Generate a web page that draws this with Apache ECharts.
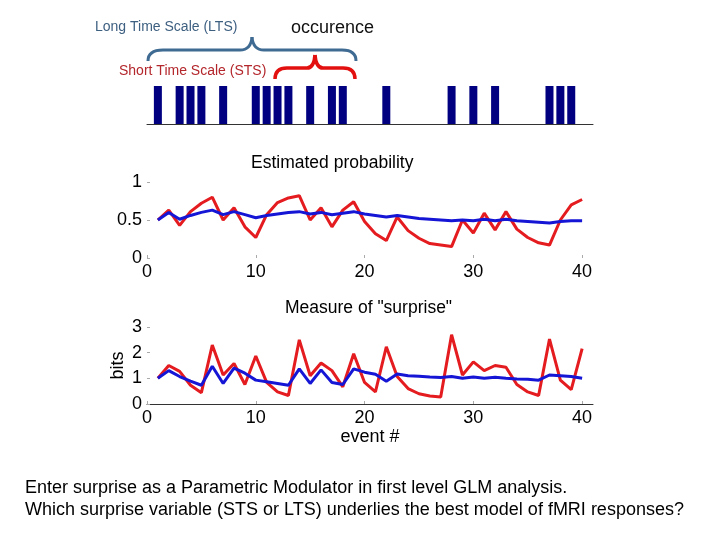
<!DOCTYPE html>
<html><head><meta charset="utf-8">
<script src="https://cdn.jsdelivr.net/npm/echarts@6/dist/echarts.min.js"></script>
<style>html,body{margin:0;padding:0;background:#fff}#c{width:720px;height:540px}</style>
</head><body><div id="c"></div>
<script>
const eventIndex = [1,2,3,4,5,6,7,8,9,10,11,12,13,14,15,16,17,18,19,20,21,22,23,24,25,26,27,28,29,30,31,32,33,34,35,36,37,38,39,40];
const occurrences = [1,3,4,5,7,10,11,12,13,15,17,18,22,28,30,32,37,38,39];
const probSTS = [0.50,0.63,0.43,0.61,0.72,0.80,0.50,0.66,0.41,0.27,0.57,0.73,0.79,0.82,0.50,0.66,0.41,0.63,0.74,0.48,0.32,0.23,0.54,0.36,0.26,0.19,0.17,0.15,0.50,0.33,0.59,0.37,0.61,0.38,0.27,0.20,0.17,0.50,0.70,0.77];
const probLTS = [0.50,0.60,0.51,0.56,0.60,0.63,0.57,0.61,0.57,0.53,0.56,0.58,0.60,0.61,0.58,0.60,0.57,0.59,0.61,0.58,0.56,0.54,0.56,0.54,0.52,0.51,0.50,0.49,0.50,0.49,0.51,0.49,0.51,0.49,0.48,0.47,0.46,0.48,0.49,0.49];
const surpriseSTS = [1.00,1.50,1.27,0.73,0.44,2.30,1.13,1.58,0.76,1.87,0.84,0.47,0.33,2.50,1.10,1.60,1.30,0.67,1.96,0.84,0.47,2.23,1.07,0.60,0.40,0.31,0.27,2.70,1.13,1.64,1.30,1.50,1.43,0.76,0.47,0.33,2.53,0.93,0.56,2.16];
const surpriseLTS = [1.00,1.30,1.07,0.89,0.73,1.47,0.80,1.40,1.20,0.93,0.87,0.80,0.73,1.37,0.80,1.33,0.84,0.76,1.37,1.24,1.16,0.89,1.17,1.10,1.08,1.05,1.03,1.07,1.00,1.05,1.00,1.04,1.00,0.97,0.96,0.93,1.13,1.10,1.07,1.00];
const xTickValues = [0,10,20,30,40];
const xTickLabels = ['0','10','20','30','40'];
const probTickLabels = ['0','0.5','1'];
const bitsTickLabels = ['0','1','2','3'];

const FONT = "'Liberation Sans', Arial, sans-serif";
const RED = '#e41b1f', BLUE = '#1515d6';
const pairs = (ys) => eventIndex.map((x, i) => [x, ys[i]]);

const chart = echarts.init(document.getElementById('c'), null, {renderer: 'canvas'});

function xAxisBase(gridIndex, showLabels, showLine) {
  return {
    type: 'value', gridIndex, min: 0, max: 41, interval: 10,
    axisLine: {show: showLine, lineStyle: {color: '#333', width: 1}},
    axisTick: {show: showLabels, inside: true, length: 3, customValues: xTickValues, lineStyle: {color: '#aaa'}},
    axisLabel: {show: showLabels, margin: 5, color: '#000', fontSize: 18, fontFamily: FONT,
      customValues: xTickValues,
      formatter: v => { const k = xTickValues.indexOf(v); return k >= 0 ? xTickLabels[k] : ''; }},
    splitLine: {show: false}
  };
}

const option = {
  animation: false,
  textStyle: {fontFamily: FONT},
  grid: [
    {left: 147, top: 86, width: 446, height: 38},
    {left: 147, top: 182, width: 446, height: 76},
    {left: 147, top: 327, width: 446, height: 77}
  ],
  xAxis: [
    xAxisBase(0, false, true),
    xAxisBase(1, true, false),
    Object.assign(xAxisBase(2, true, true), {
      name: 'event #', nameLocation: 'middle', nameGap: 23,
      nameTextStyle: {color: '#000', fontSize: 18, fontFamily: FONT}
    })
  ],
  yAxis: [
    {type: 'value', gridIndex: 0, min: 0, max: 1, show: false},
    {type: 'value', gridIndex: 1, min: 0, max: 1, interval: 0.5,
      axisLine: {show: false}, splitLine: {show: false},
      axisTick: {show: true, inside: true, length: 3, lineStyle: {color: '#aaa'}},
      axisLabel: {margin: 5, color: '#000', fontSize: 18, fontFamily: FONT,
        formatter: v => probTickLabels[Math.round(v / 0.5)]}},
    {type: 'value', gridIndex: 2, min: 0, max: 3, interval: 1,
      axisLine: {show: false}, splitLine: {show: false},
      axisTick: {show: true, inside: true, length: 3, lineStyle: {color: '#aaa'}},
      axisLabel: {margin: 5, color: '#000', fontSize: 18, fontFamily: FONT,
        formatter: v => bitsTickLabels[Math.round(v)]},
      name: 'bits', nameLocation: 'middle', nameGap: 20, nameRotate: 90, nameMoveOverlap: false,
      nameTextStyle: {color: '#000', fontSize: 18, fontFamily: FONT}}
  ],
  series: [
    {type: 'bar', xAxisIndex: 0, yAxisIndex: 0, barWidth: 8,
      itemStyle: {color: '#000080'},
      data: occurrences.map(e => [e, 1])},
    {type: 'line', xAxisIndex: 1, yAxisIndex: 1, data: pairs(probSTS), showSymbol: false,
      lineStyle: {color: RED, width: 3}},
    {type: 'line', xAxisIndex: 1, yAxisIndex: 1, data: pairs(probLTS), showSymbol: false,
      lineStyle: {color: BLUE, width: 3}},
    {type: 'line', xAxisIndex: 2, yAxisIndex: 2, data: pairs(surpriseSTS), showSymbol: false,
      lineStyle: {color: RED, width: 3}},
    {type: 'line', xAxisIndex: 2, yAxisIndex: 2, data: pairs(surpriseLTS), showSymbol: false,
      lineStyle: {color: BLUE, width: 3}}
  ],
  graphic: [
    {type: 'group', silent: true, children: [
      {type: 'bezierCurve', shape: {x1: 148, y1: 61, x2: 163, y2: 50, cpx1: 148, cpy1: 50}, style: {stroke: '#3f6b93', lineWidth: 3, fill: null}},
      {type: 'line', shape: {x1: 163, y1: 50, x2: 240, y2: 50}, style: {stroke: '#3f6b93', lineWidth: 3}},
      {type: 'bezierCurve', shape: {x1: 240, y1: 50, x2: 252, y2: 37, cpx1: 251, cpy1: 50}, style: {stroke: '#3f6b93', lineWidth: 3, fill: null}},
      {type: 'bezierCurve', shape: {x1: 264, y1: 50, x2: 252, y2: 37, cpx1: 253, cpy1: 50}, style: {stroke: '#3f6b93', lineWidth: 3, fill: null}},
      {type: 'line', shape: {x1: 264, y1: 50, x2: 342, y2: 50}, style: {stroke: '#3f6b93', lineWidth: 3}},
      {type: 'bezierCurve', shape: {x1: 342, y1: 50, x2: 356, y2: 61, cpx1: 356, cpy1: 50}, style: {stroke: '#3f6b93', lineWidth: 3, fill: null}},

      {type: 'bezierCurve', shape: {x1: 275, y1: 79, x2: 287, y2: 68, cpx1: 275, cpy1: 68}, style: {stroke: '#e31010', lineWidth: 3.5, fill: null}},
      {type: 'line', shape: {x1: 287, y1: 68, x2: 307, y2: 68}, style: {stroke: '#e31010', lineWidth: 3.5}},
      {type: 'bezierCurve', shape: {x1: 307, y1: 68, x2: 315, y2: 55, cpx1: 314, cpy1: 68}, style: {stroke: '#e31010', lineWidth: 3.5, fill: null}},
      {type: 'bezierCurve', shape: {x1: 323, y1: 68, x2: 315, y2: 55, cpx1: 316, cpy1: 68}, style: {stroke: '#e31010', lineWidth: 3.5, fill: null}},
      {type: 'line', shape: {x1: 323, y1: 68, x2: 343, y2: 68}, style: {stroke: '#e31010', lineWidth: 3.5}},
      {type: 'bezierCurve', shape: {x1: 343, y1: 68, x2: 355, y2: 79, cpx1: 355, cpy1: 68}, style: {stroke: '#e31010', lineWidth: 3.5, fill: null}}
    ]},
    {type: 'text', left: 95, top: 20, style: {text: 'Long Time Scale (LTS)', font: '14px ' + FONT, fill: '#3d5f80'}},
    {type: 'text', left: 291, top: 19, style: {text: 'occurence', font: '18px ' + FONT, fill: '#111'}},
    {type: 'text', left: 119, top: 64, style: {text: 'Short Time Scale (STS)', font: '14px ' + FONT, fill: '#b3262b'}},
    {type: 'text', left: 251, top: 154, style: {text: 'Estimated probability', font: '17.5px ' + FONT, fill: '#000'}},
    {type: 'text', left: 285, top: 299, style: {text: 'Measure of "surprise"', font: '17.5px ' + FONT, fill: '#000'}},
    {type: 'text', left: 25, top: 479, style: {text: 'Enter surprise as a Parametric Modulator in first level GLM analysis.', font: '18px ' + FONT, fill: '#000'}},
    {type: 'text', left: 25, top: 501, style: {text: 'Which surprise variable (STS or LTS) underlies the best model of fMRI responses?', font: '18px ' + FONT, fill: '#000'}}
  ]
};
chart.setOption(option);
</script></body></html>
